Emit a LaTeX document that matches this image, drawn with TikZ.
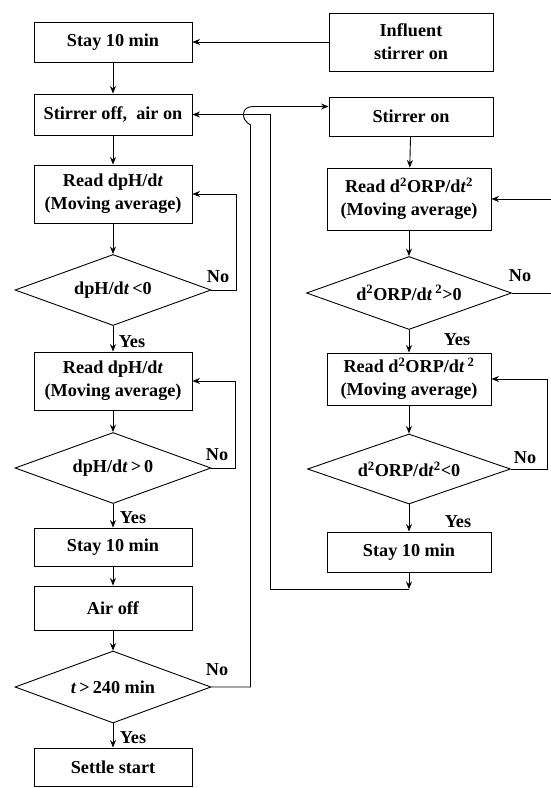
\documentclass[tikz,border=0pt]{standalone}
\usepackage{fontspec}
\setmainfont{Liberation Serif}
\usetikzlibrary{shapes.geometric,arrows.meta,calc}

\begin{document}
\begin{tikzpicture}[x=1pt,y=-1pt,
  font=\fontsize{18.2}{23}\selectfont\bfseries,
  line width=0.9pt,
  flow/.style={-{Stealth[length=7.5pt,width=6pt]}},
  box/.style={draw, rectangle, align=center, inner sep=0pt},
  lbox/.style={box, minimum width=158pt},
  rbox/.style={box, minimum width=164pt},
  test/.style={draw, diamond, align=center, inner sep=0pt, aspect=2.7},
  lbl/.style={inner sep=0pt}
]
\useasboundingbox (0,0) rectangle (550,788);

% left column: aeration phase
\node[lbox, minimum height=40pt] (stay1)    at (113,42)    {Stay 10 min};
\node[lbox, minimum height=41pt] (stirroff) at (113,114.5) {Stirrer off,~ air on};
\node[lbox, minimum height=58pt] (read1)    at (113,194)   {Read dpH/d\textit{t}\\(Moving average)};
\node[test, minimum width=196pt, minimum height=71pt] (dia1) at (113,290) {dpH/d\textit{t}\,<0};
\node[lbox, minimum height=58pt] (read2)    at (113,381)   {Read dpH/d\textit{t}\\(Moving average)};
\node[test, minimum width=196pt, minimum height=71pt] (dia2) at (113,468) {dpH/d\textit{t}\,>\,0};
\node[lbox, minimum height=38pt] (stay2)    at (113,547)   {Stay 10 min};
\node[lbox, minimum height=44pt] (airoff)   at (113,608)   {Air off};
\node[test, minimum width=196pt, minimum height=72pt] (dia3) at (113,687) {\textit{t}\,>\,240 min};
\node[lbox, minimum height=38pt] (settle)   at (113,767)   {Settle start};

% right column: anoxic phase
\node[rbox, minimum height=58pt] (influent) at (411,42)    {Influent\\stirrer on};
\node[rbox, minimum height=39pt] (stiron)   at (411,116.5) {Stirrer on};
\node[rbox, minimum height=62pt] (rread1)   at (409,199)   {Read d\textsuperscript{2}ORP/d\textit{t}\textsuperscript{2}\\(Moving average)};
\node[test, minimum width=205pt, minimum height=73pt] (rdia1) at (409,293) {d\textsuperscript{2}ORP/d\textit{t}\,\textsuperscript{2}>0};
\node[rbox, minimum height=52pt] (rread2)   at (409,379)   {Read d\textsuperscript{2}ORP/d\textit{t}\,\textsuperscript{2}\\(Moving average)};
\node[test, minimum width=203pt, minimum height=70pt] (rdia2) at (409,469) {d\textsuperscript{2}ORP/d\textit{t}\textsuperscript{2}<0};
\node[rbox, minimum height=40pt] (rstay)    at (409,552)   {Stay 10 min};
\coordinate (j) at (409,589);

% branch labels
\node[lbl] at (218,277) {No};
\node[lbl] at (132,342) {Yes};
\node[lbl] at (217,455) {No};
\node[lbl] at (133,518) {Yes};
\node[lbl] at (217,670) {No};
\node[lbl] at (133,738) {Yes};
\node[lbl] at (520,276) {No};
\node[lbl] at (457,340) {Yes};
\node[lbl] at (525,458) {No};
\node[lbl] at (458,522) {Yes};

% main flow
\draw[flow] (influent) -- (stay1);
\draw[flow] (stay1) -- (stirroff);
\draw[flow] (stirroff) -- (read1);
\draw[flow] (read1) -- (dia1);
\draw[flow] (dia1) -- (read2);
\draw[flow] (read2) -- (dia2);
\draw[flow] (dia2) -- (stay2);
\draw[flow] (stay2) -- (airoff);
\draw[flow] (airoff) -- (dia3);
\draw[flow] (dia3) -- (settle);

\draw[flow] (stiron) -- (rread1);
\draw[flow] (rread1) -- (rdia1);
\draw[flow] (rdia1) -- (rread2);
\draw[flow] (rread2) -- (rdia2);
\draw[flow] (rdia2) -- (rstay);
\draw[flow] (rstay) -- (j);

% re-read loops
\draw[flow] (dia1.east) -- ++(25,0) |- (read1.east);
\draw[flow] (dia2.east) -- ++(24,0) |- (read2.east);
\draw[flow] (rdia1.east) -- (552,293) |- (rread1.east);
\draw[flow] (rdia2.east) -- ++(36,0) |- (rread2.east);

% back to aeration after the anoxic phase
\draw[flow] (j) -- (270.5,589) |- (stirroff.east);

% cycle not finished: hop over the return line, go to the anoxic phase
\draw[flow] (dia3.east) -- (250.5,687) -- (250.5,125)
  .. controls (244.5,121) and (243.5,118) .. (243.5,114.5)
  .. controls (243.5,109) and (247.5,106.5) .. (253.5,106.5)
  -- ($(stiron.west)+(0,-10)$);
\end{tikzpicture}
\end{document}
